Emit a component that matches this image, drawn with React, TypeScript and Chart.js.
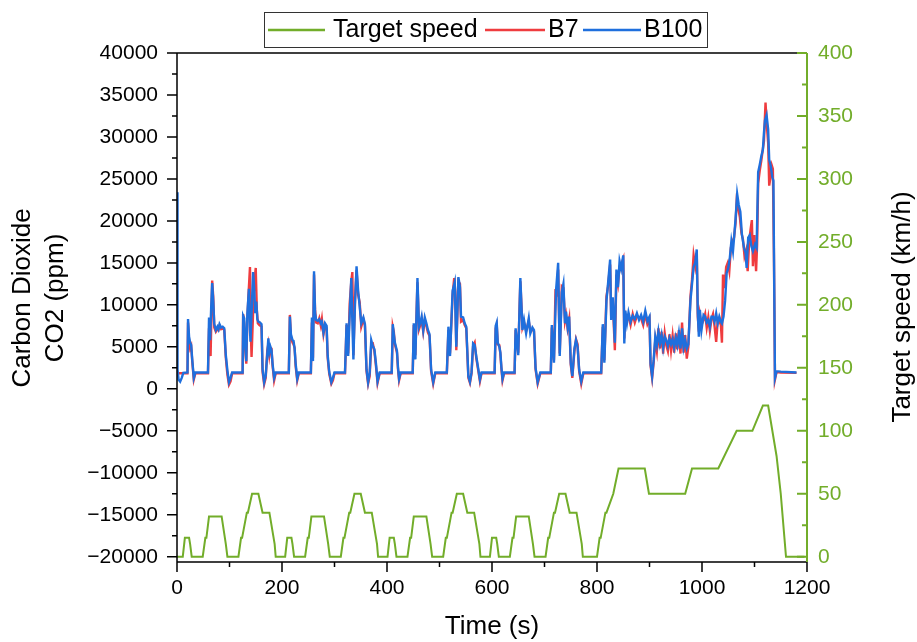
import { useEffect, useRef } from 'react';
import { Chart, registerables } from 'chart.js';

Chart.register(...registerables);

const FONT = '"Liberation Sans", Arial, Helvetica, sans-serif';
const GREEN = '#72ad2a';
const RED = '#ef3c3f';
const BLUE = '#1f6fdd';

const legendLabels = ['Target speed', 'B7', 'B100'];
const xTitle = 'Time (s)';
const yTitleLines = ['Carbon Dioxide', 'CO2 (ppm)'];
const y2Title = 'Target speed (km/h)';

const timeTicks = [0, 200, 400, 600, 800, 1000, 1200];
const co2Ticks = [-20000, -15000, -10000, -5000, 0, 5000, 10000, 15000, 20000, 25000, 30000, 35000, 40000];
const speedTicks = [0, 50, 100, 150, 200, 250, 300, 350, 400];

// NEDC target speed (time s, km/h)
const targetSpeed: [number, number][] = [
  [0, 0], [11, 0], [15, 15], [23, 15], [25, 10], [28, 0], [49, 0], [54, 15], [56, 15], [61, 32], [85, 32], [93, 10], [96, 0],
  [117, 0], [122, 15], [124, 15], [133, 35], [135, 35], [143, 50], [155, 50], [163, 35], [176, 35], [186, 10], [188, 0],
  [206, 0], [210, 15], [218, 15], [220, 10], [223, 0], [244, 0], [249, 15], [251, 15], [256, 32], [280, 32], [288, 10], [291, 0],
  [312, 0], [317, 15], [319, 15], [328, 35], [330, 35], [338, 50], [350, 50], [358, 35], [371, 35], [381, 10], [383, 0],
  [401, 0], [405, 15], [413, 15], [415, 10], [418, 0], [439, 0], [444, 15], [446, 15], [451, 32], [475, 32], [483, 10], [486, 0],
  [507, 0], [512, 15], [514, 15], [523, 35], [525, 35], [533, 50], [545, 50], [553, 35], [566, 35], [576, 10], [578, 0],
  [596, 0], [600, 15], [608, 15], [610, 10], [613, 0], [634, 0], [639, 15], [641, 15], [646, 32], [670, 32], [678, 10], [681, 0],
  [702, 0], [707, 15], [709, 15], [718, 35], [720, 35], [728, 50], [740, 50], [748, 35], [761, 35], [771, 10], [773, 0],
  [800, 0], [805, 15], [807, 15], [816, 35], [818, 35], [831, 50], [832, 50], [841, 70], [891, 70], [899, 50], [968, 50],
  [981, 70], [1031, 70], [1066, 100], [1096, 100], [1116, 120], [1126, 120], [1142, 80], [1150, 50], [1160, 0], [1195, 0],
];

// B7 CO2 (time s, ppm)
const b7: [number, number][] = [
  [0, 1850], [20, 1850], [21, 7900], [23, 5600], [25, 4800], [27, 5100], [29, 3300], [32, 1100], [35, 1850],
  [59, 1850], [61, 7200], [64, 3900], [66, 10000], [67, 12900], [69, 11000], [71, 7300], [74, 6800], [77, 7100], [79, 7000], [81, 7500], [84, 7100], [87, 7200], [90, 7000], [93, 3700], [96, 1700], [99, 500], [102, 900], [105, 1850],
  [125, 1850], [126, 8900], [128, 7800], [130, 4600], [132, 3000], [134, 8200], [136, 11000], [139, 14500], [141, 6000], [142, 3800], [145, 9200], [147, 12600], [150, 14400], [152, 9500], [154, 7800], [157, 7600], [161, 7400], [163, 2000], [166, 550], [169, 1300], [172, 4600], [174, 5300], [176, 4000], [178, 4900], [180, 4800], [182, 2800], [185, 1000], [188, 1850],
  [213, 1850], [215, 8800], [217, 6200], [220, 5500], [222, 5300], [224, 4900], [226, 2700], [229, 1000], [232, 1850],
  [255, 1850], [257, 7900], [259, 3700], [261, 13600], [263, 9400], [265, 7900], [268, 7800], [271, 8400], [274, 7500], [276, 8300], [279, 6500], [282, 7600], [285, 7200], [287, 3700], [290, 1800], [294, 600], [297, 1000], [300, 1850],
  [320, 1850], [323, 7600], [326, 4200], [329, 10200], [332, 12800], [334, 13900], [336, 4000], [339, 10700], [342, 14100], [345, 11200], [348, 10300], [351, 7400], [355, 8300], [358, 7500], [361, 2100], [364, 600], [367, 1500], [370, 5300], [373, 5400], [376, 4500], [379, 2700], [382, 700], [386, 1850],
  [409, 1850], [411, 7400], [413, 6800], [415, 5300], [417, 4800], [419, 4300], [421, 2300], [423, 1000], [426, 1850],
  [449, 1850], [451, 7600], [454, 4000], [458, 12700], [461, 7100], [464, 7700], [466, 8300], [469, 6800], [472, 8200], [475, 7500], [478, 6700], [481, 6300], [484, 2100], [488, 600], [492, 1850],
  [514, 1850], [517, 7000], [520, 4200], [525, 11200], [528, 13200], [530, 11600], [532, 4600], [536, 12800], [539, 12500], [541, 8000], [545, 8200], [548, 7600], [551, 7200], [555, 1300], [558, 700], [561, 1800], [564, 5100], [567, 5500], [570, 3700], [574, 2100], [577, 900], [580, 1850],
  [605, 1850], [607, 7200], [609, 7600], [611, 5300], [614, 5200], [616, 4100], [618, 2300], [620, 1000], [623, 1850],
  [643, 1850], [645, 7000], [650, 4300], [654, 12800], [658, 7300], [661, 7900], [665, 6900], [670, 8100], [673, 6900], [677, 7100], [680, 6800], [683, 2300], [687, 600], [692, 1850],
  [712, 1850], [714, 7300], [718, 3400], [721, 11900], [723, 11000], [726, 14200], [729, 4200], [733, 12200], [736, 12000], [739, 8100], [741, 8800], [744, 7200], [747, 8300], [750, 2900], [753, 1300], [757, 4500], [760, 5900], [763, 5300], [766, 2100], [770, 600], [774, 1850],
  [808, 1850], [811, 7400], [814, 3400], [818, 11000], [821, 12200], [825, 14800], [827, 8600], [830, 10500], [834, 4600], [837, 13600], [840, 12500], [843, 14600], [846, 14800], [850, 15500], [852, 6000], [854, 8800], [857, 8100], [860, 8700], [864, 7600], [868, 8900], [872, 7900], [876, 8700], [880, 8500], [884, 8400], [888, 7600], [892, 8900], [896, 7700], [900, 8300], [902, 2800], [905, 1300], [908, 3200],
  [911, 5800], [914, 4500], [917, 7200], [920, 4800], [923, 6800], [926, 4200], [929, 6600], [932, 5200], [935, 4500], [938, 6500], [941, 4600], [944, 6300], [947, 4300], [950, 6600], [953, 4700], [956, 7000], [959, 4200], [962, 7900], [965, 4300], [968, 6400], [971, 3600], [974, 5000],
  [978, 11000], [981, 13000], [984, 15900], [987, 14600], [990, 16100], [992, 8600], [994, 6800], [996, 8800], [999, 7600], [1003, 8200], [1006, 8900], [1009, 7300], [1012, 8500], [1015, 6900], [1018, 8300], [1021, 8900], [1024, 7400], [1027, 5600], [1030, 8200], [1033, 8100], [1036, 7600], [1038, 5500],
  [1040, 13600], [1043, 12000], [1046, 14500], [1049, 15000], [1052, 14000], [1055, 16800], [1058, 17600], [1061, 18000], [1064, 19800], [1066, 22300], [1069, 21500], [1072, 20500], [1075, 18600], [1078, 17800], [1081, 15800], [1084, 16500], [1087, 14000], [1090, 17700], [1093, 19200], [1095, 20100], [1097, 14600], [1100, 18300], [1103, 14000], [1105, 17200],
  [1107, 24500], [1110, 26000], [1113, 27200], [1116, 28600], [1118, 29500], [1121, 34100], [1123, 31800], [1126, 29300], [1128, 24200], [1130, 25000], [1133, 26600], [1135, 26200], [1137, 16000], [1139, 1100], [1142, 2000], [1150, 1950], [1180, 1900],
];

// B100 CO2 (time s, ppm)
const b100: [number, number][] = [
  [0, 23400], [1, 2300], [3, 1100], [6, 850], [9, 1300], [12, 1900], [20, 1950], [21, 8300], [23, 6200], [25, 5500], [27, 5200], [29, 3500], [32, 1300], [35, 1950],
  [59, 1950], [61, 8500], [63, 5800], [65, 9500], [67, 12600], [69, 10500], [71, 7700], [74, 7000], [77, 7400], [79, 7100], [81, 7700], [84, 7300], [87, 7400], [90, 7200], [93, 4000], [96, 2200], [99, 800], [102, 1300], [105, 1950],
  [125, 1950], [126, 8700], [128, 8400], [130, 5000], [132, 3300], [134, 9000], [137, 11900], [139, 7000], [140, 5600], [142, 9000], [145, 13900], [147, 12000], [149, 9000], [151, 10400], [153, 8300], [155, 8000], [158, 7900], [161, 7700], [163, 2300], [166, 800], [169, 1600], [172, 4200], [174, 6000], [176, 4400], [178, 5000], [180, 4600], [182, 3000], [185, 1300], [188, 1950],
  [213, 1950], [215, 8600], [217, 6500], [220, 5800], [222, 5700], [224, 4800], [226, 3000], [229, 1200], [232, 1950],
  [255, 1950], [257, 8500], [259, 3300], [261, 14000], [263, 9000], [265, 8200], [268, 8100], [271, 8300], [274, 7800], [276, 8000], [279, 6700], [282, 7800], [285, 7500], [287, 4000], [290, 2000], [294, 800], [297, 1300], [300, 1950],
  [320, 1950], [323, 7800], [326, 3900], [329, 9000], [332, 13200], [334, 8000], [336, 3500], [339, 10000], [342, 14600], [345, 11700], [348, 9800], [351, 7800], [355, 8500], [358, 7700], [361, 2300], [364, 800], [367, 1900], [370, 5800], [373, 5100], [376, 4700], [379, 3000], [382, 900], [386, 1950],
  [409, 1950], [411, 7700], [413, 6500], [415, 5500], [417, 5000], [419, 4500], [421, 2500], [423, 1200], [426, 1950],
  [449, 1950], [451, 7800], [454, 3500], [458, 13200], [461, 7400], [464, 8000], [466, 8600], [469, 7000], [472, 8500], [475, 7800], [478, 7000], [481, 6500], [484, 2300], [488, 800], [492, 1950],
  [514, 1950], [517, 7400], [520, 3900], [525, 11700], [529, 12700], [532, 5000], [536, 13300], [539, 12100], [541, 8600], [545, 8500], [548, 7800], [551, 7400], [555, 1500], [558, 850], [561, 1950], [564, 5400], [567, 5200], [570, 3900], [574, 2300], [577, 1100], [580, 1950],
  [605, 1950], [607, 7500], [609, 7900], [611, 5500], [614, 5000], [616, 4300], [618, 2500], [620, 1200], [623, 1950],
  [643, 1950], [645, 7200], [650, 4000], [654, 13200], [658, 7000], [661, 8200], [665, 6600], [670, 8400], [673, 6600], [677, 7300], [680, 7000], [683, 2500], [687, 800], [692, 1950],
  [712, 1950], [714, 7600], [718, 3100], [722, 11700], [726, 15000], [729, 3900], [733, 11500], [736, 12500], [739, 7800], [741, 9200], [744, 7400], [747, 8600], [750, 3100], [753, 1500], [757, 4800], [760, 5800], [763, 5000], [766, 2300], [770, 900], [774, 1950],
  [808, 1950], [811, 7700], [814, 3100], [818, 10500], [821, 12500], [825, 15400], [827, 8200], [830, 10900], [834, 5500], [837, 14200], [840, 12100], [843, 15200], [846, 14300], [850, 15900], [852, 5400], [854, 9300], [857, 7800], [860, 9100], [864, 8000], [868, 8700], [872, 8300], [876, 9000], [880, 8200], [884, 8800], [888, 8000], [892, 9300], [896, 8100], [900, 8600], [902, 3000], [905, 1500], [908, 3500],
  [911, 6200], [914, 5200], [917, 6800], [920, 5400], [923, 6400], [926, 4900], [929, 6200], [932, 5800], [935, 5100], [938, 6000], [941, 5300], [944, 5900], [947, 4900], [950, 6100], [953, 5200], [956, 6600], [959, 4800], [962, 7200], [965, 4900], [968, 5800], [971, 4800], [974, 5300],
  [978, 10500], [981, 12500], [984, 14500], [987, 15000], [990, 16600], [992, 9000], [994, 6200], [996, 9400], [999, 7000], [1003, 8800], [1006, 8600], [1009, 7900], [1012, 8200], [1015, 7400], [1018, 8600], [1021, 8600], [1024, 8000], [1027, 9000], [1030, 7800], [1033, 8600], [1036, 8000], [1038, 7800],
  [1041, 8600], [1044, 10500], [1047, 13800], [1050, 14400], [1053, 15600], [1056, 17600], [1059, 16400], [1062, 18700], [1064, 20300], [1067, 23200], [1070, 21900], [1073, 21100], [1076, 18400], [1080, 16800], [1083, 16200], [1085, 14400], [1088, 18000], [1091, 18300], [1094, 17000], [1097, 16400], [1101, 17200], [1104, 16800],
  [1107, 25800], [1110, 26700], [1113, 27700], [1116, 28500], [1118, 30500], [1120, 32000], [1123, 32600], [1126, 30900], [1128, 27300], [1131, 26500], [1134, 25200], [1136, 24800], [1139, 1300], [1142, 2100], [1150, 2050], [1180, 1950],
];

const toXY = (pts: [number, number][]) => pts.map(([x, y]) => ({ x, y }));
const fmt = (v: number) => (v < 0 ? '\u2212' + String(Math.abs(v)) : String(v));

const decorPlugin = {
  id: 'decor',
  afterDraw(chart: any) {
    const { ctx, chartArea } = chart;
    const { left, right, top, bottom } = chartArea;
    const sx = chart.scales.x;
    const sy = chart.scales.y;
    const s2 = chart.scales.y2;
    ctx.save();
    ctx.lineCap = 'butt';

    // black axes and ticks
    ctx.strokeStyle = '#000';
    ctx.lineWidth = 1.5;
    ctx.beginPath();
    co2Ticks.forEach((v, i) => {
      const p = sy.getPixelForValue(v);
      ctx.moveTo(left - 10, p);
      ctx.lineTo(left, p);
      if (i < co2Ticks.length - 1) {
        const m = sy.getPixelForValue((v + co2Ticks[i + 1]) / 2);
        ctx.moveTo(left - 5, m);
        ctx.lineTo(left, m);
      }
    });
    timeTicks.forEach((v, i) => {
      const p = sx.getPixelForValue(v);
      ctx.moveTo(p, bottom);
      ctx.lineTo(p, bottom + 10);
      if (i < timeTicks.length - 1) {
        const m = sx.getPixelForValue((v + timeTicks[i + 1]) / 2);
        ctx.moveTo(m, bottom);
        ctx.lineTo(m, bottom + 5);
      }
    });
    ctx.moveTo(left, top);
    ctx.lineTo(right, top);
    ctx.moveTo(left, top);
    ctx.lineTo(left, bottom);
    ctx.moveTo(left - 0.75, bottom);
    ctx.lineTo(right, bottom);
    ctx.stroke();

    // green right axis, inward ticks
    ctx.strokeStyle = GREEN;
    ctx.lineWidth = 2;
    ctx.beginPath();
    speedTicks.forEach((v, i) => {
      const p = s2.getPixelForValue(v);
      ctx.moveTo(right - 10, p);
      ctx.lineTo(right, p);
      if (i < speedTicks.length - 1) {
        const m = s2.getPixelForValue((v + speedTicks[i + 1]) / 2);
        ctx.moveTo(right - 5, m);
        ctx.lineTo(right, m);
      }
    });
    ctx.moveTo(right, top);
    ctx.lineTo(right, bottom);
    ctx.stroke();

    // axis titles
    ctx.font = `26px ${FONT}`;
    ctx.fillStyle = '#000';
    ctx.textAlign = 'center';
    ctx.textBaseline = 'middle';
    ctx.fillText(xTitle, (left + right) / 2, 627);
    ctx.save();
    ctx.translate(23, 298);
    ctx.rotate(-Math.PI / 2);
    ctx.fillText(yTitleLines[0], 0, 0);
    ctx.fillText(yTitleLines[1], 0, 33);
    ctx.restore();
    ctx.save();
    ctx.translate(903, 307);
    ctx.rotate(-Math.PI / 2);
    ctx.fillText(y2Title, 0, 0);
    ctx.restore();

    // legend
    ctx.strokeStyle = '#333';
    ctx.lineWidth = 1;
    ctx.strokeRect(264.5, 12.5, 443, 35);
    const ly = 30;
    const items = [
      { color: GREEN, x0: 268, x1: 325, tx: 333, label: legendLabels[0] },
      { color: RED, x0: 485, x1: 545, tx: 548, label: legendLabels[1] },
      { color: BLUE, x0: 583, x1: 641, tx: 644, label: legendLabels[2] },
    ];
    ctx.font = `25px ${FONT}`;
    ctx.textAlign = 'left';
    items.forEach((it) => {
      ctx.strokeStyle = it.color;
      ctx.lineWidth = 2.5;
      ctx.beginPath();
      ctx.moveTo(it.x0, ly);
      ctx.lineTo(it.x1, ly);
      ctx.stroke();
      ctx.fillStyle = '#000';
      ctx.fillText(it.label, it.tx, ly);
    });
    ctx.restore();
  },
};

export default function App() {
  const canvasRef = useRef<HTMLCanvasElement | null>(null);

  useEffect(() => {
    const canvas = canvasRef.current;
    if (!canvas) return;
    const tickFont = { family: FONT, size: 21 };
    const chart = new Chart(canvas, {
      type: 'line',
      data: {
        datasets: [
          {
            label: legendLabels[2],
            data: toXY(b100),
            borderColor: BLUE,
            borderWidth: 2.4,
            pointRadius: 0,
            tension: 0,
            fill: false,
            yAxisID: 'y',
            order: 0,
          },
          {
            label: legendLabels[1],
            data: toXY(b7),
            borderColor: RED,
            borderWidth: 2.4,
            pointRadius: 0,
            tension: 0,
            fill: false,
            yAxisID: 'y',
            order: 1,
          },
          {
            label: legendLabels[0],
            data: toXY(targetSpeed),
            borderColor: GREEN,
            borderWidth: 2,
            pointRadius: 0,
            tension: 0,
            fill: false,
            yAxisID: 'y2',
            order: 2,
          },
        ],
      },
      options: {
        responsive: false,
        animation: false,
        events: [],
        layout: { padding: { top: 53, left: 0, right: 0, bottom: 0 } },
        plugins: { legend: { display: false }, tooltip: { enabled: false }, title: { display: false } },
        scales: {
          x: {
            type: 'linear',
            min: 0,
            max: 1200,
            afterBuildTicks: (s: any) => {
              s.ticks = timeTicks.map((v) => ({ value: v }));
            },
            afterFit: (s: any) => {
              s.height = 80;
            },
            grid: { display: false, drawTicks: false },
            border: { display: false },
            ticks: { font: tickFont, color: '#000', padding: 14, autoSkip: false, maxRotation: 0, callback: (v: any) => fmt(Number(v)) },
          },
          y: {
            type: 'linear',
            position: 'left',
            min: -20630,
            max: 40000,
            afterBuildTicks: (s: any) => {
              s.ticks = co2Ticks.map((v) => ({ value: v }));
            },
            afterFit: (s: any) => {
              s.width = 177;
            },
            grid: { display: false, drawTicks: false },
            border: { display: false },
            ticks: { font: tickFont, color: '#000', padding: 19, autoSkip: false, callback: (v: any) => fmt(Number(v)) },
          },
          y2: {
            type: 'linear',
            position: 'right',
            min: -4.2,
            max: 400,
            afterBuildTicks: (s: any) => {
              s.ticks = speedTicks.map((v) => ({ value: v }));
            },
            afterFit: (s: any) => {
              s.width = 110;
            },
            grid: { display: false, drawTicks: false },
            border: { display: false },
            ticks: { font: tickFont, color: GREEN, padding: 11, autoSkip: false, callback: (v: any) => fmt(Number(v)) },
          },
        },
      },
      plugins: [decorPlugin],
    } as any);
    return () => chart.destroy();
  }, []);

  return (
    <div style={{ position: 'fixed', left: 0, top: 0, width: 917, height: 642, background: '#fff' }}>
      <canvas ref={canvasRef} width={917} height={642} style={{ display: 'block' }} />
    </div>
  );
}
